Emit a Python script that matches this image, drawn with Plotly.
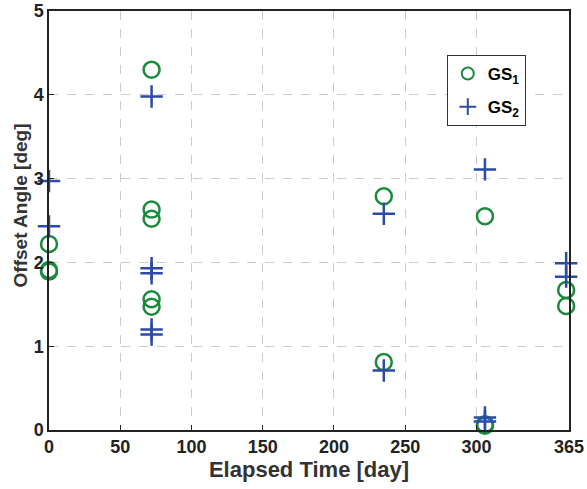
import plotly.graph_objects as go

gs1_days = [0, 0, 0, 72, 72, 72, 72, 72, 235, 235, 306, 306, 306, 363, 363]
gs1_vals = [2.22, 1.91, 1.89, 4.30, 2.63, 2.52, 1.56, 1.47, 2.79, 0.81, 2.55, 0.07, 0.05, 1.67, 1.48]

gs2_days = [0, 0, 72, 72, 72, 72, 72, 235, 235, 306, 306, 306, 363, 363]
gs2_vals = [2.97, 2.43, 3.98, 1.93, 1.87, 1.20, 1.14, 2.58, 0.71, 3.11, 0.15, 0.10, 1.99, 1.83]

x_ticks = [0, 50, 100, 150, 200, 250, 300, 365]
y_ticks = [0, 1, 2, 3, 4, 5]

green = "#1a8a3c"
blue = "#2c4aa6"
FONT = "Liberation Sans, Arial, sans-serif"

fig = go.Figure()
fig.add_trace(go.Scatter(
    x=gs1_days, y=gs1_vals, mode="markers", name="GS<sub>1</sub>", legendgroup="a",
    marker=dict(symbol="circle-open", size=16, color=green, line=dict(width=2.5, color=green)),
    cliponaxis=False,
))
fig.add_trace(go.Scatter(
    x=gs2_days, y=gs2_vals, mode="markers", name="GS<sub>2</sub>", legendgroup="b",
    marker=dict(symbol="cross-thin-open", size=16, color=blue, line=dict(width=2.5, color=blue)),
    cliponaxis=False,
))

axis_common = dict(
    showline=True, linecolor="#222222", linewidth=1.5, mirror=True,
    ticks="inside", ticklen=5, tickcolor="#222222",
    showgrid=True, gridcolor="#cccccc", griddash="dash", gridwidth=1,
    zeroline=False, automargin=False, ticklabeloverflow="allow",
)

fig.update_xaxes(
    range=[0, 365], tickvals=x_ticks, ticktext=[str(v) for v in x_ticks],
    tickfont=dict(family=FONT, size=18, color="#222222", weight="bold"),
    title=dict(text="<b>Elapsed Time [day]</b>", standoff=2,
               font=dict(family=FONT, size=22, color="#333333")),
    **axis_common,
)
fig.update_yaxes(
    range=[0, 5], tickvals=y_ticks,
    tickfont=dict(family=FONT, size=18, color="#222222", weight="bold"),
    **axis_common,
)

fig.add_annotation(
    text="<b>Offset Angle [deg]</b>", textangle=-90,
    xref="paper", yref="paper", x=0, y=0.536, xanchor="center", yanchor="middle",
    xshift=-29, showarrow=False,
    font=dict(family=FONT, size=19, color="#333333"),
)

fig.update_layout(
    width=587, height=489,
    margin=dict(l=49, r=18, t=11, b=59),
    plot_bgcolor="white", paper_bgcolor="white",
    showlegend=True,
    legend=dict(
        x=0.765, y=0.895, xanchor="left", yanchor="top",
        bordercolor="#333333", borderwidth=1, bgcolor="white",
        font=dict(family=FONT, size=17, color="black", weight="bold"),
        itemsizing="constant", tracegroupgap=8, itemwidth=30,
    ),
)

fig.write_html("out.html", config={"displayModeBar": False},
               post_script="document.body.style.margin='0';")
